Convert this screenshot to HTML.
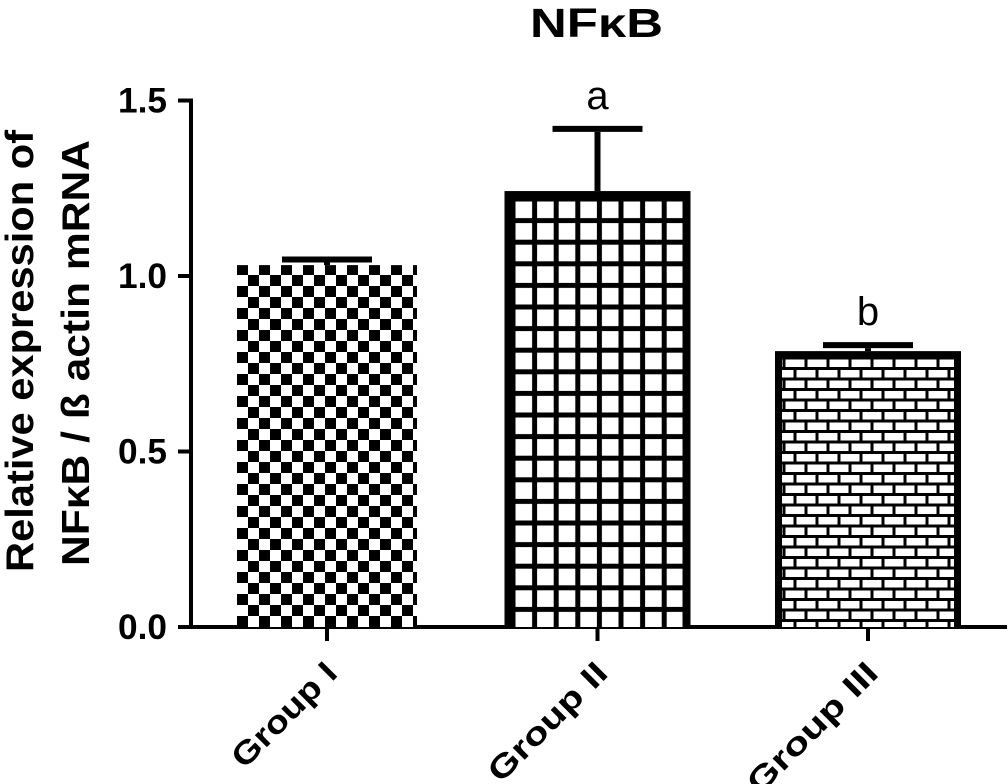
<!DOCTYPE html>
<html><head><meta charset="utf-8"><style>
html,body{margin:0;padding:0;background:#fff;}
svg{display:block;font-family:"Liberation Sans",Arial,sans-serif;}
</style></head><body>
<svg id="chart" width="1008" height="784" viewBox="0 0 1008 784" xmlns="http://www.w3.org/2000/svg">
<defs>
<pattern id="pat-checker" patternUnits="userSpaceOnUse" x="237" y="0" width="22" height="22">
<rect width="22" height="22" fill="#fff"/>
<rect x="0" y="0" width="11" height="11" fill="#000"/>
<rect x="11" y="11" width="11" height="11" fill="#000"/>
</pattern>
<pattern id="pat-grid" patternUnits="userSpaceOnUse" x="513" y="199" width="21.6" height="21.6">
<rect width="21.6" height="21.6" fill="#000"/>
<rect x="2.5" y="2.5" width="16.6" height="16.6" fill="#fff"/>
</pattern>
<pattern id="pat-brick" patternUnits="userSpaceOnUse" x="784" y="358" width="22" height="21">
<rect width="22" height="21" fill="#000"/>
<rect x="1.5" y="1.5" width="19" height="7.5" fill="#fff"/>
<rect x="-9.5" y="12" width="19" height="7.5" fill="#fff"/>
<rect x="12.5" y="12" width="19" height="7.5" fill="#fff"/>
</pattern>
</defs>
<text x="530" y="37" font-size="41" font-weight="bold" textLength="133" lengthAdjust="spacingAndGlyphs">NFκB</text>
<text transform="translate(33,572) rotate(-90)" font-size="39" font-weight="bold" textLength="442" lengthAdjust="spacingAndGlyphs">Relative expression of</text>
<text transform="translate(89,566) rotate(-90)" font-size="39" font-weight="bold" textLength="426" lengthAdjust="spacingAndGlyphs">NFκB / ß actin mRNA</text>
<g id="axes"></g>
<g id="bars"></g>
</svg>
<script>
const categories = ["Group I", "Group II", "Group III"];
const values = [1.031, 1.242, 0.786];
const errors = [0.016, 0.177, 0.017];
const sigLabels = ["", "a", "b"];
const yTicks = [0.0, 0.5, 1.0, 1.5];
const yTickLabels = ["0.0", "0.5", "1.0", "1.5"];

const NS = "http://www.w3.org/2000/svg";
const y0 = 627, pxPerUnit = 351;
const yScale = v => y0 - v * pxPerUnit;
const xCenter = i => 327 + i * 270.5;
const barW = 186;
const fills = ["url(#pat-checker)", "url(#pat-grid)", "url(#pat-brick)"];
const borders = [0, 8, 7];
const labelLens = [134, 154, 170];

function mk(tag, attrs, parent) {
  const e = document.createElementNS(NS, tag);
  for (const k in attrs) e.setAttribute(k, attrs[k]);
  parent.appendChild(e);
  return e;
}
const axes = document.getElementById("axes");
const bars = document.getElementById("bars");

categories.forEach((c, i) => {
  const cx = xCenter(i);
  const top = yScale(values[i]);
  const b = borders[i];
  const g = mk("g", {}, bars);
  
  
  if (b > 0) {
    const outer = mk("rect", {x: cx - barW / 2, y: top, width: barW, height: y0 - top, fill: "#000"}, g);
    
    
  }
  const inner = mk("rect", {x: cx - barW / 2 + (b || 3), y: top + b, width: barW - 2 * (b || 3), height: y0 - top - b, fill: fills[i]}, g);
  
  
  const eTop = yScale(values[i] + errors[i]);
  const ev = mk("line", {x1: cx, x2: cx, y1: top, y2: eTop + 3, stroke: "#000", "stroke-width": 6}, g);
  
  
  const cap = mk("line", {x1: cx - 45, x2: cx + 45, y1: eTop, y2: eTop, stroke: "#000", "stroke-width": 6}, g);
  
  
  if (sigLabels[i]) {
    const t = mk("text", {x: cx, y: eTop - 20, "font-size": 40, "text-anchor": "middle"}, g);
    t.textContent = sigLabels[i];
    
    
  }
  const tk = mk("line", {x1: cx, x2: cx, y1: y0, y2: y0 + 14, stroke: "#000", "stroke-width": 4}, axes);
  
  
  const lbl = mk("text", {transform: "translate(" + (cx + 12) + "," + (y0 + 48) + ") rotate(-45)", "font-size": 32, "font-weight": "bold", "text-anchor": "end", textLength: labelLens[i], lengthAdjust: "spacingAndGlyphs"}, axes);
  lbl.textContent = c;
  
  
});

const yAxis = mk("line", {x1: 191, x2: 191, y1: yScale(1.5) - 2, y2: y0, stroke: "#000", "stroke-width": 4}, axes);


const xAxis = mk("line", {x1: 178, x2: 1007, y1: y0, y2: y0, stroke: "#000", "stroke-width": 4}, axes);


yTicks.forEach((v, i) => {
  const y = yScale(v);
  const t = mk("line", {x1: 178, x2: 193, y1: y, y2: y, stroke: "#000", "stroke-width": 4}, axes);
  
  
  const l = mk("text", {x: 118, y: y + 12, "font-size": 35, "font-weight": "bold", textLength: 49, lengthAdjust: "spacingAndGlyphs"}, axes);
  l.textContent = yTickLabels[i];
  
  
});
</script>
</body></html>
